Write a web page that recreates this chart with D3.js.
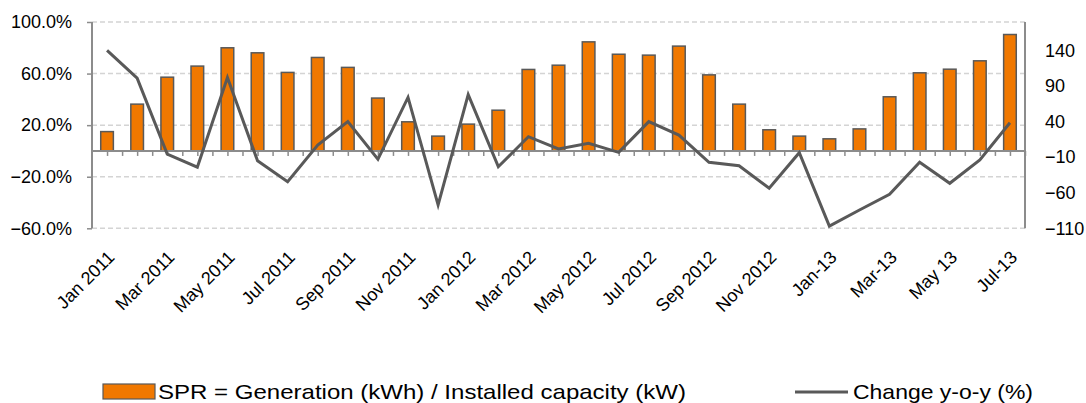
<!DOCTYPE html>
<html>
<head>
<meta charset="utf-8">
<script src="https://cdn.jsdelivr.net/npm/d3@7"></script>
<style>
  html, body { margin: 0; padding: 0; background: #fff; }
  svg { display: block; font-family: "Liberation Sans", Arial, sans-serif; }
</style>
</head>
<body>
<svg id="chart" width="1086" height="403"></svg>
<script>
// ---- data ----
const categories = [
  "Jan 2011","Feb 2011","Mar 2011","Apr 2011","May 2011","Jun 2011","Jul 2011","Aug 2011","Sep 2011","Oct 2011","Nov 2011","Dec 2011",
  "Jan 2012","Feb 2012","Mar 2012","Apr 2012","May 2012","Jun 2012","Jul 2012","Aug 2012","Sep 2012","Oct 2012","Nov 2012","Dec 2012",
  "Jan-13","Feb-13","Mar-13","Apr-13","May 13","Jun-13","Jul-13"
];
const sprValues = [
  15, 36.3, 57.2, 65.8, 80, 76.1, 60.9, 72.5, 64.8, 41, 22.6, 11.5,
  20.8, 31.6, 63.2, 66.5, 84.6, 75, 74.3, 81.3, 59, 36.3, 16.4, 11.5,
  9.4, 17.1, 42, 60.6, 63.4, 69.9, 90.3
];
const yoyValues = [
  140, 101, -5.6, -24, 102, -15, -44.5, 7, 40, -13, 74, -77,
  78, -23.4, 18.8, 1.5, 9.5, -3.2, 40, 21, -17.2, -22, -53.8, -3.7,
  -106.8, -84.3, -62.2, -17.2, -46.7, -14, 38.4
];
const leftTicks = [-60, -20, 20, 60, 100];
const rightTicks = [-110, -60, -10, 40, 90, 140];
const legendLabels = ["SPR = Generation (kWh) / Installed capacity (kW)", "Change y-o-y (%)"];

// ---- layout ----
const svg = d3.select("#chart");
const x0 = 92, x1 = 1025, yTop = 22, yBot = 228.3;
const orange = "#F07800", dark = "#595959", axisCol = "#8c8c8c";

const x = d3.scaleBand().domain(categories).range([x0, x1]).padding(0);
const xLin = d3.scaleLinear().domain([0, categories.length]).range([x0, x1]);
const yL = d3.scaleLinear().domain([-60, 100]).range([yBot, yTop]);
const yR = d3.scaleLinear().domain([-110, 180]).range([yBot, yTop]);

// gridlines
svg.append("g").selectAll("line").data(leftTicks).join("line")
  .attr("x1", x0).attr("x2", x1)
  .attr("y1", d => yL(d)).attr("y2", d => yL(d))
  .attr("stroke", "#d4d4d4").attr("stroke-width", 1.5)
  .attr("stroke-dasharray", "5,3");

// bars
const bw = x.bandwidth() * 0.42;
svg.append("g").selectAll("rect").data(sprValues).join("rect")
  .attr("x", (d, i) => x(categories[i]) + x.bandwidth() / 2 - bw / 2)
  .attr("y", d => yL(d))
  .attr("width", bw)
  .attr("height", d => yL(0) - yL(d))
  .attr("fill", orange)
  .attr("stroke", dark).attr("stroke-width", 1.5);

// left axis
const gL = svg.append("g").attr("transform", `translate(${x0},0)`)
  .call(d3.axisLeft(yL).tickValues(leftTicks).tickSize(5).tickPadding(15)
    .tickFormat(d => d3.format(".1f")(d) + "%"));
gL.select(".domain").attr("stroke", axisCol).attr("stroke-width", 2).attr("d", `M0,${yTop}V${yBot}`);
gL.selectAll(".tick line").attr("stroke", axisCol).attr("stroke-width", 1.5);
gL.selectAll("text").attr("font-size", 18).attr("fill", "#000").attr("font-family", "Liberation Sans, Arial, sans-serif");

// right axis
const gR = svg.append("g").attr("transform", `translate(${x1},0)`)
  .call(d3.axisRight(yR).tickValues(rightTicks).tickSize(0).tickPadding(20));
gR.select(".domain").attr("stroke", axisCol).attr("stroke-width", 2).attr("d", `M0,${yTop}V${yBot}`);
gR.selectAll("text").attr("font-size", 18).attr("fill", "#000").attr("font-family", "Liberation Sans, Arial, sans-serif");

// x axis at zero with half-category ticks
const halfTicks = d3.range(0.5, categories.length + 0.01, 0.5);
const gX = svg.append("g").attr("transform", `translate(0,${yL(0)})`)
  .call(d3.axisBottom(xLin).tickValues(halfTicks).tickSize(5).tickFormat(""));
gX.select(".domain").attr("stroke", axisCol).attr("stroke-width", 2).attr("d", `M${x0},0H${x1}`);
gX.selectAll(".tick line").attr("stroke", axisCol).attr("stroke-width", 1.5);

// category labels (every other month), rotated
svg.append("g").selectAll("text")
  .data(categories.filter((d, i) => i % 2 === 0))
  .join("text")
  .attr("transform", d => `translate(${x(d) + x.bandwidth() / 2 + 4},254) rotate(-45)`)
  .attr("text-anchor", "end")
  .attr("dy", "0.35em")
  .attr("font-size", 18)
  .attr("fill", "#000")
  .text(d => d);

// line
const line = d3.line()
  .x((d, i) => x(categories[i]) + x.bandwidth() / 2)
  .y(d => yR(d));
svg.append("path").datum(yoyValues)
  .attr("d", line)
  .attr("fill", "none")
  .attr("stroke", dark).attr("stroke-width", 3)
  .attr("stroke-linejoin", "miter");

// legend
svg.append("rect").attr("x", 103).attr("y", 384).attr("width", 52).attr("height", 15)
  .attr("fill", orange).attr("stroke", dark).attr("stroke-width", 1.2);
svg.append("text").attr("x", 158).attr("y", 399).attr("font-size", 21)
  .attr("textLength", 528).attr("lengthAdjust", "spacingAndGlyphs")
  .text(legendLabels[0]);
svg.append("line").attr("x1", 795).attr("x2", 848).attr("y1", 392).attr("y2", 392)
  .attr("stroke", dark).attr("stroke-width", 3);
svg.append("text").attr("x", 853).attr("y", 399).attr("font-size", 21)
  .attr("textLength", 180).attr("lengthAdjust", "spacingAndGlyphs")
  .text(legendLabels[1]);
</script>
</body>
</html>
